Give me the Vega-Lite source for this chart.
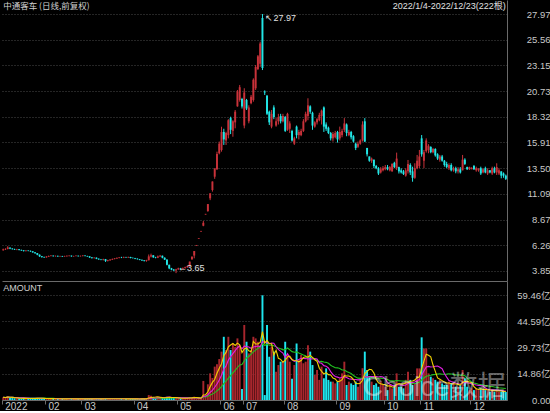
{
"$schema":"https://vega.github.io/schema/vega-lite/v6.json",
"background":"#000000",
"padding":0,
"spacing":0,
"config":{"view":{"stroke":null},
"axis":{"labelFont":"Liberation Sans, Noto Sans CJK SC","labelColor":"#c8c8c8","labelFontSize":9.5,"domainColor":"#6a6a6a","tickColor":"#6a6a6a","gridColor":"#4a4a4a","gridDash":[1,2],"labelOverlap":false}},
"datasets":{"k":[
{"i":0,"o":5.8,"h":5.95,"l":5.75,"c":5.88,"v":1.5},
{"i":1,"o":5.88,"h":5.98,"l":5.82,"c":5.92,"v":1.3},
{"i":2,"o":5.92,"h":6.18,"l":5.88,"c":6.06,"v":2.0},
{"i":3,"o":6.04,"h":6.08,"l":5.9,"c":5.95,"v":1.4},
{"i":4,"o":5.95,"h":5.99,"l":5.86,"c":5.9,"v":1.1},
{"i":5,"o":5.9,"h":5.94,"l":5.82,"c":5.86,"v":1.0},
{"i":6,"o":5.86,"h":5.93,"l":5.8,"c":5.89,"v":1.0},
{"i":7,"o":5.89,"h":5.91,"l":5.78,"c":5.82,"v":0.9},
{"i":8,"o":5.82,"h":5.86,"l":5.74,"c":5.78,"v":0.9},
{"i":9,"o":5.78,"h":5.81,"l":5.68,"c":5.72,"v":0.8},
{"i":10,"o":5.72,"h":5.8,"l":5.68,"c":5.77,"v":0.9},
{"i":11,"o":5.77,"h":5.8,"l":5.7,"c":5.74,"v":0.8},
{"i":12,"o":5.74,"h":5.77,"l":5.65,"c":5.69,"v":0.8},
{"i":13,"o":5.69,"h":5.72,"l":5.56,"c":5.6,"v":0.9},
{"i":14,"o":5.6,"h":5.62,"l":5.47,"c":5.52,"v":1.0},
{"i":15,"o":5.52,"h":5.54,"l":5.33,"c":5.38,"v":1.1},
{"i":16,"o":5.38,"h":5.4,"l":5.17,"c":5.23,"v":1.0},
{"i":17,"o":5.23,"h":5.26,"l":5.1,"c":5.16,"v":0.8},
{"i":18,"o":5.16,"h":5.2,"l":5.08,"c":5.13,"v":0.7},
{"i":19,"o":5.13,"h":5.24,"l":5.1,"c":5.2,"v":0.7},
{"i":20,"o":5.2,"h":5.3,"l":5.16,"c":5.26,"v":0.8},
{"i":21,"o":5.26,"h":5.34,"l":5.22,"c":5.29,"v":0.9},
{"i":22,"o":5.29,"h":5.31,"l":5.2,"c":5.24,"v":0.7},
{"i":23,"o":5.24,"h":5.3,"l":5.2,"c":5.27,"v":0.6},
{"i":24,"o":5.27,"h":5.29,"l":5.18,"c":5.22,"v":0.7},
{"i":25,"o":5.22,"h":5.28,"l":5.19,"c":5.25,"v":0.6},
{"i":26,"o":5.25,"h":5.27,"l":5.17,"c":5.21,"v":0.7},
{"i":27,"o":5.21,"h":5.28,"l":5.18,"c":5.24,"v":0.6},
{"i":28,"o":5.24,"h":5.3,"l":5.2,"c":5.27,"v":0.7},
{"i":29,"o":5.27,"h":5.33,"l":5.22,"c":5.29,"v":0.8},
{"i":30,"o":5.29,"h":5.3,"l":5.19,"c":5.23,"v":0.6},
{"i":31,"o":5.23,"h":5.28,"l":5.18,"c":5.25,"v":0.6},
{"i":32,"o":5.25,"h":5.32,"l":5.22,"c":5.28,"v":0.7},
{"i":33,"o":5.28,"h":5.3,"l":5.2,"c":5.24,"v":0.6},
{"i":34,"o":5.24,"h":5.3,"l":5.2,"c":5.26,"v":0.6},
{"i":35,"o":5.26,"h":5.34,"l":5.22,"c":5.3,"v":0.7},
{"i":36,"o":5.3,"h":5.32,"l":5.22,"c":5.26,"v":0.6},
{"i":37,"o":5.26,"h":5.28,"l":5.18,"c":5.22,"v":0.6},
{"i":38,"o":5.22,"h":5.24,"l":5.08,"c":5.12,"v":0.8},
{"i":39,"o":5.12,"h":5.16,"l":5.02,"c":5.06,"v":0.7},
{"i":40,"o":5.06,"h":5.14,"l":5.02,"c":5.1,"v":0.6},
{"i":41,"o":5.1,"h":5.12,"l":4.96,"c":5.0,"v":0.7},
{"i":42,"o":5.0,"h":5.03,"l":4.9,"c":4.94,"v":0.6},
{"i":43,"o":4.94,"h":4.98,"l":4.86,"c":4.9,"v":0.6},
{"i":44,"o":4.9,"h":5.0,"l":4.84,"c":4.96,"v":0.7},
{"i":45,"o":4.96,"h":4.98,"l":4.7,"c":4.8,"v":0.9},
{"i":46,"o":4.8,"h":4.9,"l":4.74,"c":4.86,"v":0.7},
{"i":47,"o":4.86,"h":4.96,"l":4.8,"c":4.92,"v":0.6},
{"i":48,"o":4.92,"h":5.02,"l":4.88,"c":4.98,"v":0.7},
{"i":49,"o":4.98,"h":5.06,"l":4.94,"c":5.03,"v":0.8},
{"i":50,"o":5.03,"h":5.12,"l":4.98,"c":5.08,"v":0.7},
{"i":51,"o":5.08,"h":5.16,"l":5.04,"c":5.12,"v":0.8},
{"i":52,"o":5.12,"h":5.18,"l":5.06,"c":5.1,"v":0.6},
{"i":53,"o":5.1,"h":5.2,"l":5.06,"c":5.15,"v":0.6},
{"i":54,"o":5.15,"h":5.18,"l":5.08,"c":5.12,"v":0.6},
{"i":55,"o":5.12,"h":5.2,"l":5.08,"c":5.16,"v":0.7},
{"i":56,"o":5.16,"h":5.18,"l":5.04,"c":5.08,"v":0.6},
{"i":57,"o":5.08,"h":5.12,"l":5.02,"c":5.06,"v":0.6},
{"i":58,"o":5.06,"h":5.08,"l":4.96,"c":5.0,"v":0.6},
{"i":59,"o":5.0,"h":5.04,"l":4.92,"c":4.96,"v":0.6},
{"i":60,"o":4.96,"h":4.98,"l":4.86,"c":4.9,"v":0.6},
{"i":61,"o":4.9,"h":4.92,"l":4.8,"c":4.84,"v":0.7},
{"i":62,"o":4.84,"h":4.88,"l":4.74,"c":4.79,"v":0.6},
{"i":63,"o":4.79,"h":4.9,"l":4.72,"c":4.86,"v":0.7},
{"i":64,"o":4.86,"h":5.4,"l":4.84,"c":5.22,"v":2.8},
{"i":65,"o":5.22,"h":5.48,"l":5.12,"c":5.32,"v":2.4},
{"i":66,"o":5.32,"h":5.34,"l":5.08,"c":5.14,"v":1.5},
{"i":67,"o":5.14,"h":5.18,"l":5.04,"c":5.1,"v":1.1},
{"i":68,"o":5.1,"h":5.3,"l":5.06,"c":5.22,"v":1.4},
{"i":69,"o":5.22,"h":5.36,"l":5.16,"c":5.28,"v":1.5},
{"i":70,"o":5.28,"h":5.3,"l":5.04,"c":5.1,"v":1.2},
{"i":71,"o":5.1,"h":5.12,"l":4.88,"c":4.92,"v":1.3},
{"i":72,"o":4.92,"h":4.94,"l":4.38,"c":4.43,"v":1.8},
{"i":73,"o":4.43,"h":4.45,"l":4.02,"c":4.1,"v":1.5},
{"i":74,"o":4.1,"h":4.14,"l":3.92,"c":3.98,"v":1.2},
{"i":75,"o":3.98,"h":4.04,"l":3.86,"c":3.9,"v":1.3},
{"i":76,"o":3.9,"h":4.06,"l":3.65,"c":4.0,"v":1.2},
{"i":77,"o":4.0,"h":4.16,"l":3.96,"c":4.1,"v":0.9},
{"i":78,"o":4.1,"h":4.14,"l":4.0,"c":4.05,"v":0.8},
{"i":79,"o":4.05,"h":4.18,"l":4.02,"c":4.12,"v":0.9},
{"i":80,"o":4.12,"h":4.26,"l":4.08,"c":4.2,"v":1.0},
{"i":81,"o":4.2,"h":4.36,"l":4.16,"c":4.3,"v":1.2},
{"i":82,"o":4.3,"h":4.73,"l":4.25,"c":4.73,"v":1.6},
{"i":83,"o":4.95,"h":5.2,"l":4.9,"c":5.2,"v":1.4},
{"i":84,"o":5.3,"h":5.72,"l":5.04,"c":5.72,"v":1.9},
{"i":85,"o":6.22,"h":6.29,"l":6.22,"c":6.29,"v":0.6},
{"i":86,"o":6.86,"h":6.92,"l":6.86,"c":6.92,"v":0.5},
{"i":87,"o":7.55,"h":7.61,"l":7.55,"c":7.61,"v":0.6},
{"i":88,"o":8.1,"h":8.54,"l":8.05,"c":8.37,"v":10.8},
{"i":89,"o":9.15,"h":9.21,"l":9.15,"c":9.21,"v":2.5},
{"i":90,"o":9.48,"h":10.13,"l":9.4,"c":10.13,"v":8.9},
{"i":91,"o":10.67,"h":11.14,"l":10.5,"c":11.14,"v":15.1},
{"i":92,"o":11.45,"h":12.25,"l":11.3,"c":12.25,"v":12.5},
{"i":93,"o":12.7,"h":13.48,"l":12.5,"c":13.48,"v":18.9},
{"i":94,"o":13.4,"h":15.05,"l":13.33,"c":14.83,"v":20.2},
{"i":95,"o":14.9,"h":16.0,"l":14.8,"c":15.8,"v":23.2},
{"i":96,"o":15.2,"h":17.39,"l":15.05,"c":16.9,"v":27.4},
{"i":97,"o":16.9,"h":17.2,"l":15.68,"c":16.2,"v":35.8},
{"i":98,"o":16.1,"h":16.92,"l":15.68,"c":16.8,"v":28.3},
{"i":99,"o":16.6,"h":18.1,"l":16.3,"c":18.0,"v":35.8},
{"i":100,"o":18.2,"h":18.33,"l":16.7,"c":17.1,"v":28.3},
{"i":101,"o":17.0,"h":18.0,"l":16.45,"c":17.9,"v":32.1},
{"i":102,"o":17.8,"h":18.96,"l":17.24,"c":18.8,"v":30.0},
{"i":103,"o":19.3,"h":20.84,"l":19.27,"c":20.7,"v":34.9},
{"i":104,"o":19.9,"h":21.31,"l":19.74,"c":21.1,"v":31.0},
{"i":105,"o":20.0,"h":20.1,"l":19.1,"c":19.3,"v":6.2},
{"i":106,"o":17.5,"h":21.0,"l":17.24,"c":20.6,"v":42.5},
{"i":107,"o":19.9,"h":20.0,"l":18.96,"c":19.1,"v":33.0},
{"i":108,"o":17.9,"h":19.4,"l":17.71,"c":19.2,"v":26.4},
{"i":109,"o":19.6,"h":20.37,"l":19.5,"c":20.2,"v":28.3},
{"i":110,"o":19.9,"h":21.93,"l":19.74,"c":21.8,"v":35.8},
{"i":111,"o":21.0,"h":23.18,"l":20.84,"c":23.0,"v":34.9},
{"i":112,"o":22.8,"h":24.12,"l":22.71,"c":24.0,"v":33.0},
{"i":113,"o":23.3,"h":25.37,"l":23.0,"c":25.2,"v":31.0},
{"i":114,"o":27.6,"h":27.97,"l":22.71,"c":22.9,"v":59.3},
{"i":115,"o":20.7,"h":20.8,"l":20.37,"c":20.61,"v":2.8},
{"i":116,"o":20.3,"h":20.37,"l":18.49,"c":18.6,"v":42.5},
{"i":117,"o":18.8,"h":18.9,"l":17.55,"c":17.8,"v":24.5},
{"i":118,"o":17.4,"h":18.96,"l":17.24,"c":18.6,"v":30.2},
{"i":119,"o":19.2,"h":19.4,"l":18.1,"c":18.3,"v":27.4},
{"i":120,"o":17.5,"h":18.2,"l":17.39,"c":17.9,"v":16.0},
{"i":121,"o":17.9,"h":18.6,"l":17.6,"c":18.3,"v":19.8},
{"i":122,"o":18.4,"h":18.6,"l":17.7,"c":17.9,"v":21.7},
{"i":123,"o":17.9,"h":18.6,"l":17.8,"c":18.4,"v":22.0},
{"i":124,"o":18.3,"h":18.4,"l":16.9,"c":17.0,"v":33.0},
{"i":125,"o":17.1,"h":18.7,"l":17.0,"c":18.6,"v":25.5},
{"i":126,"o":17.2,"h":17.9,"l":16.8,"c":17.7,"v":21.7},
{"i":127,"o":17.0,"h":17.1,"l":16.0,"c":16.1,"v":12.0},
{"i":128,"o":15.8,"h":16.45,"l":15.68,"c":16.3,"v":19.8},
{"i":129,"o":17.4,"h":17.5,"l":16.3,"c":16.6,"v":32.0},
{"i":130,"o":16.6,"h":17.1,"l":16.2,"c":16.9,"v":22.6},
{"i":131,"o":16.6,"h":17.2,"l":16.5,"c":17.0,"v":25.5},
{"i":132,"o":17.0,"h":18.1,"l":16.9,"c":17.9,"v":20.8},
{"i":133,"o":17.9,"h":18.8,"l":17.8,"c":18.6,"v":21.7},
{"i":134,"o":18.4,"h":20.06,"l":18.0,"c":19.4,"v":31.0},
{"i":135,"o":19.3,"h":19.4,"l":18.6,"c":18.8,"v":27.4},
{"i":136,"o":18.7,"h":18.8,"l":17.1,"c":17.5,"v":19.8},
{"i":137,"o":17.4,"h":17.9,"l":17.3,"c":17.8,"v":14.2},
{"i":138,"o":17.8,"h":18.2,"l":17.6,"c":18.1,"v":17.0},
{"i":139,"o":18.0,"h":18.7,"l":17.9,"c":18.5,"v":11.4},
{"i":140,"o":18.4,"h":19.0,"l":17.6,"c":18.9,"v":18.9},
{"i":141,"o":19.2,"h":19.3,"l":16.9,"c":17.4,"v":12.3},
{"i":142,"o":17.6,"h":17.8,"l":17.0,"c":17.2,"v":17.9},
{"i":143,"o":17.3,"h":17.4,"l":16.7,"c":16.8,"v":11.4},
{"i":144,"o":16.8,"h":16.9,"l":16.1,"c":16.3,"v":10.4},
{"i":145,"o":16.3,"h":16.9,"l":16.0,"c":16.7,"v":10.4},
{"i":146,"o":16.4,"h":17.0,"l":16.3,"c":16.8,"v":9.4},
{"i":147,"o":16.9,"h":17.0,"l":15.9,"c":16.2,"v":10.4},
{"i":148,"o":16.3,"h":17.4,"l":16.1,"c":16.9,"v":12.3},
{"i":149,"o":16.6,"h":17.2,"l":16.4,"c":17.0,"v":15.1},
{"i":150,"o":17.1,"h":18.2,"l":16.9,"c":17.7,"v":21.7},
{"i":151,"o":17.6,"h":17.7,"l":16.5,"c":16.8,"v":8.5},
{"i":152,"o":16.6,"h":17.1,"l":16.5,"c":16.9,"v":10.4},
{"i":153,"o":16.9,"h":17.0,"l":16.2,"c":16.4,"v":9.4},
{"i":154,"o":16.5,"h":16.6,"l":15.9,"c":16.0,"v":8.5},
{"i":155,"o":15.8,"h":15.9,"l":15.2,"c":15.4,"v":10.4},
{"i":156,"o":15.5,"h":16.0,"l":15.4,"c":15.8,"v":7.5},
{"i":157,"o":15.8,"h":16.2,"l":15.7,"c":16.1,"v":11.4},
{"i":158,"o":16.1,"h":17.9,"l":16.0,"c":17.6,"v":18.0},
{"i":159,"o":17.9,"h":18.2,"l":15.95,"c":16.0,"v":27.4},
{"i":160,"o":15.4,"h":15.4,"l":14.6,"c":14.8,"v":17.0},
{"i":161,"o":14.6,"h":14.6,"l":14.1,"c":14.2,"v":13.2},
{"i":162,"o":14.2,"h":14.5,"l":14.0,"c":14.4,"v":10.4},
{"i":163,"o":14.3,"h":14.3,"l":13.5,"c":13.7,"v":8.5},
{"i":164,"o":13.7,"h":13.8,"l":13.4,"c":13.5,"v":9.4},
{"i":165,"o":13.5,"h":13.6,"l":12.86,"c":13.0,"v":7.5},
{"i":166,"o":13.1,"h":13.6,"l":13.0,"c":13.4,"v":10.4},
{"i":167,"o":13.3,"h":13.7,"l":13.2,"c":13.5,"v":8.5},
{"i":168,"o":13.4,"h":13.8,"l":13.3,"c":13.6,"v":7.5},
{"i":169,"o":13.6,"h":13.8,"l":13.3,"c":13.4,"v":5.6},
{"i":170,"o":13.3,"h":13.7,"l":13.2,"c":13.6,"v":8.5},
{"i":171,"o":13.2,"h":13.96,"l":13.17,"c":13.9,"v":6.6},
{"i":172,"o":14.0,"h":14.1,"l":13.5,"c":13.6,"v":8.5},
{"i":173,"o":13.5,"h":14.96,"l":13.33,"c":14.4,"v":15.1},
{"i":174,"o":13.6,"h":13.64,"l":13.0,"c":13.2,"v":7.5},
{"i":175,"o":13.3,"h":13.49,"l":13.0,"c":13.1,"v":7.5},
{"i":176,"o":13.2,"h":13.33,"l":12.86,"c":12.95,"v":6.6},
{"i":177,"o":12.8,"h":13.49,"l":12.7,"c":13.3,"v":11.4},
{"i":178,"o":13.2,"h":14.27,"l":13.0,"c":13.9,"v":16.0},
{"i":179,"o":13.8,"h":13.96,"l":12.86,"c":13.1,"v":11.4},
{"i":180,"o":13.2,"h":13.64,"l":12.23,"c":12.6,"v":8.5},
{"i":181,"o":12.6,"h":13.96,"l":12.5,"c":13.5,"v":9.4},
{"i":182,"o":13.5,"h":14.74,"l":13.4,"c":14.2,"v":17.9},
{"i":183,"o":13.7,"h":15.21,"l":13.5,"c":14.6,"v":17.9},
{"i":184,"o":16.3,"h":16.61,"l":14.58,"c":14.8,"v":35.5},
{"i":185,"o":14.2,"h":15.21,"l":13.5,"c":15.0,"v":29.2},
{"i":186,"o":15.1,"h":16.3,"l":14.96,"c":16.1,"v":29.2},
{"i":187,"o":15.2,"h":15.75,"l":14.9,"c":15.6,"v":15.1},
{"i":188,"o":15.5,"h":15.55,"l":14.9,"c":15.0,"v":13.2},
{"i":189,"o":15.0,"h":15.4,"l":14.9,"c":15.3,"v":12.3},
{"i":190,"o":15.3,"h":15.37,"l":14.58,"c":14.7,"v":11.4},
{"i":191,"o":14.8,"h":14.9,"l":14.27,"c":14.4,"v":10.4},
{"i":192,"o":14.3,"h":14.74,"l":14.11,"c":14.6,"v":11.4},
{"i":193,"o":14.6,"h":14.74,"l":14.11,"c":14.2,"v":9.4},
{"i":194,"o":14.2,"h":14.27,"l":13.64,"c":13.8,"v":8.5},
{"i":195,"o":13.9,"h":14.1,"l":13.5,"c":13.6,"v":8.5},
{"i":196,"o":13.5,"h":13.96,"l":13.33,"c":13.8,"v":10.4},
{"i":197,"o":13.8,"h":13.96,"l":13.2,"c":13.3,"v":9.4},
{"i":198,"o":13.3,"h":13.64,"l":13.17,"c":13.5,"v":9.4},
{"i":199,"o":13.5,"h":13.64,"l":13.02,"c":13.2,"v":7.5},
{"i":200,"o":13.2,"h":13.6,"l":13.0,"c":13.4,"v":7.5},
{"i":201,"o":13.4,"h":13.6,"l":13.0,"c":13.1,"v":8.5},
{"i":202,"o":13.3,"h":14.74,"l":13.3,"c":14.3,"v":17.0},
{"i":203,"o":14.3,"h":14.43,"l":13.8,"c":13.9,"v":12.3},
{"i":204,"o":13.6,"h":13.64,"l":13.33,"c":13.4,"v":7.5},
{"i":205,"o":13.4,"h":13.64,"l":13.33,"c":13.6,"v":5.6},
{"i":206,"o":13.4,"h":13.6,"l":13.4,"c":13.5,"v":6.6},
{"i":207,"o":13.7,"h":13.8,"l":13.33,"c":13.4,"v":5.6},
{"i":208,"o":13.3,"h":13.64,"l":13.17,"c":13.5,"v":6.6},
{"i":209,"o":13.3,"h":13.5,"l":13.17,"c":13.45,"v":5.6},
{"i":210,"o":13.5,"h":13.64,"l":12.86,"c":13.0,"v":6.6},
{"i":211,"o":13.1,"h":13.49,"l":13.02,"c":13.4,"v":5.6},
{"i":212,"o":13.5,"h":13.64,"l":13.02,"c":13.1,"v":5.6},
{"i":213,"o":13.0,"h":13.49,"l":12.86,"c":13.3,"v":5.6},
{"i":214,"o":13.3,"h":13.33,"l":13.02,"c":13.1,"v":4.7},
{"i":215,"o":13.0,"h":13.64,"l":12.86,"c":13.5,"v":5.6},
{"i":216,"o":13.5,"h":13.64,"l":13.02,"c":13.1,"v":4.7},
{"i":217,"o":13.1,"h":13.96,"l":12.86,"c":13.6,"v":5.6},
{"i":218,"o":13.0,"h":13.49,"l":12.86,"c":13.3,"v":4.7},
{"i":219,"o":13.2,"h":13.2,"l":12.55,"c":12.8,"v":4.7},
{"i":220,"o":13.0,"h":13.1,"l":12.6,"c":12.8,"v":4.7},
{"i":221,"o":12.8,"h":12.9,"l":12.39,"c":12.5,"v":4.5}
]},
"vconcat":[
{
"width":505,"height":281,
"data":{"name":"k"},
"layer":[
{"mark":{"type":"rule","strokeWidth":1},
"encoding":{
"x":{"field":"i","type":"ordinal","scale":{"type":"band","paddingInner":0.15,"paddingOuter":0.1},"axis":{"labels":false,"ticks":false,"domain":true,"grid":false,"title":null}},
"y":{"field":"l","type":"quantitative","scale":{"domain":[2.911,29.284],"nice":false,"zero":false},"axis":{"orient":"right","values":[3.85,6.26,8.67,11.09,13.5,15.91,18.32,20.73,23.15,25.56,27.97],"tickCount":50,"format":".2f","grid":true,"ticks":false,"labelAlign":"right","labelPadding":43,"labelOverlap":false,"title":null}},
"y2":{"field":"h"},
"color":{"condition":{"test":"datum.c >= datum.o","value":"#c8323a"},"value":"#22e6e6"}}},
{"mark":{"type":"bar"},
"encoding":{
"x":{"field":"i","type":"ordinal","scale":{"type":"band","paddingInner":0.15,"paddingOuter":0.1}},
"y":{"field":"o","type":"quantitative","scale":{"domain":[2.911,29.284],"nice":false,"zero":false}},
"y2":{"field":"c"},
"color":{"condition":{"test":"datum.c >= datum.o","value":"#c8323a"},"value":"#22e6e6"}}},
{"data":{"values":[{}]},
"mark":{"type":"text","align":"left","baseline":"top","font":"Noto Sans CJK SC","fontSize":8.5,"color":"#d0d0d0","text":"中通客车 (日线,前复权)"},
"encoding":{"x":{"datum":0,"type":"ordinal"},"y":{"datum":29.1,"type":"quantitative"}}},
{"data":{"values":[{}]},
"mark":{"type":"text","align":"right","baseline":"top","font":"Liberation Sans, Noto Sans CJK SC","fontSize":9,"color":"#e0e0e0","text":"2022/1/4-2022/12/23(222根)"},
"encoding":{"x":{"datum":221,"type":"ordinal"},"y":{"datum":29.1,"type":"quantitative"}}},
{"data":{"values":[{}]},
"mark":{"type":"text","align":"left","baseline":"middle","dx":3,"dy":4,"font":"Liberation Sans","fontSize":9,"color":"#e0e0e0","text":"↖27.97"},
"encoding":{"x":{"datum":114,"type":"ordinal"},"y":{"datum":27.97,"type":"quantitative"}}},
{"data":{"values":[{}]},
"mark":{"type":"text","align":"left","baseline":"middle","dx":2,"dy":-5,"font":"Liberation Sans","fontSize":9,"color":"#e0e0e0","text":"←3.65"},
"encoding":{"x":{"datum":76,"type":"ordinal"},"y":{"datum":3.65,"type":"quantitative"}}}
]
},
{
"width":505,"height":119,
"data":{"name":"k"},
"transform":[
{"window":[{"op":"mean","field":"v","as":"m5"}],"frame":[-4,0],"sort":[{"field":"i","order":"ascending"}]},
{"window":[{"op":"mean","field":"v","as":"m10"}],"frame":[-9,0],"sort":[{"field":"i","order":"ascending"}]},
{"window":[{"op":"mean","field":"v","as":"m20"}],"frame":[-19,0],"sort":[{"field":"i","order":"ascending"}]}
],
"layer":[
{"mark":{"type":"bar"},
"encoding":{
"x":{"field":"i","type":"ordinal","scale":{"type":"band","paddingInner":0.15,"paddingOuter":0.1},"axis":{"values":[0,19,35,58,77,96,106,124,147,168,184,206],"labelExpr":"datum.value==0?'2022':datum.value==19?'02':datum.value==35?'03':datum.value==58?'04':datum.value==77?'05':datum.value==96?'06':datum.value==106?'07':datum.value==124?'08':datum.value==147?'09':datum.value==168?'10':datum.value==184?'11':'12'","bandPosition":0,"labelAngle":0,"labelAlign":"left","labelBaseline":"top","labelOffset":2,"labelPadding":-3,"tickSize":4,"labelFontSize":10,"labelOverlap":false,"labelFlush":false,"labelBound":false,"grid":false,"title":null}},
"y":{"field":"v","type":"quantitative","scale":{"domain":[0,67.4],"nice":false},"axis":{"orient":"right","values":[0,14.86,29.73,44.59,59.46],"tickCount":50,"labelExpr":"datum.value==0?'0.00':format(datum.value,'.2f')+'亿'","grid":true,"ticks":false,"labelAlign":"right","labelPadding":43,"labelOverlap":false,"title":null}},
"color":{"condition":{"test":"datum.c >= datum.o","value":"#a8262d"},"value":"#1ee6ee"}}},
{"mark":{"type":"line","strokeWidth":1.1,"color":"#20c020"},
"encoding":{"x":{"field":"i","type":"ordinal"},"y":{"field":"m20","type":"quantitative","scale":{"domain":[0,67.4],"nice":false}}}},
{"mark":{"type":"line","strokeWidth":1.1,"color":"#e020e0"},
"encoding":{"x":{"field":"i","type":"ordinal"},"y":{"field":"m10","type":"quantitative","scale":{"domain":[0,67.4],"nice":false}}}},
{"mark":{"type":"line","strokeWidth":1.1,"color":"#f0d000"},
"encoding":{"x":{"field":"i","type":"ordinal"},"y":{"field":"m5","type":"quantitative","scale":{"domain":[0,67.4],"nice":false}}}},
{"data":{"values":[{}]},
"mark":{"type":"text","align":"left","baseline":"top","font":"Liberation Sans","fontSize":9,"color":"#d0d0d0","text":"AMOUNT"},
"encoding":{"x":{"datum":0,"type":"ordinal"},"y":{"datum":65.7,"type":"quantitative"}}},
{"data":{"values":[{}]},
"mark":{"type":"text","align":"right","baseline":"alphabetic","font":"Liberation Sans, Noto Sans CJK SC","fontSize":28,"color":"#ffffff","opacity":0.4,"text":"Choice数据"},
"encoding":{"x":{"datum":221,"type":"ordinal"},"y":{"datum":2.5,"type":"quantitative"}}}
]
}
]
}
